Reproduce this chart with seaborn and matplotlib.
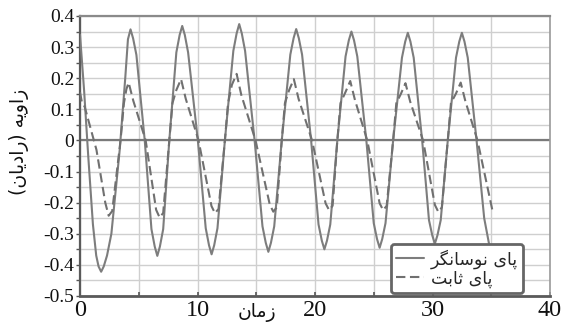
import matplotlib
matplotlib.use("Agg")
import matplotlib.pyplot as plt
from matplotlib.ticker import MultipleLocator, FixedLocator, FixedFormatter
import seaborn as sns
import pandas as pd

# ---------------- data ----------------
t_osc = [0.00, 0.35, 0.70, 1.10, 1.38, 1.58, 1.80, 2.02, 2.30, 2.67, 3.38, 3.85, 4.08, 4.30,
         4.52, 4.80, 5.51, 6.08, 6.36, 6.58, 6.80, 7.08, 7.60, 8.20, 8.48, 8.70,
         8.92, 9.20, 10.03, 10.70, 10.98, 11.20, 11.42, 11.70, 12.33, 13.05, 13.33, 13.55,
         13.77, 14.05, 14.86, 15.53, 15.81, 16.03, 16.25, 16.53, 17.17, 17.90, 18.18, 18.40,
         18.62, 18.90, 19.67, 20.30, 20.58, 20.80, 21.02, 21.30, 21.90, 22.60, 22.88, 23.10,
         23.32, 23.60, 24.37, 25.00, 25.28, 25.50, 25.72, 26.00, 26.65, 27.40, 27.68, 27.90,
         28.12, 28.40, 29.12, 29.70, 29.98, 30.20, 30.42, 30.70, 31.30, 32.00, 32.28, 32.50,
         32.72, 33.00, 33.75, 34.40, 34.85]
angle_osc = [0.340, 0.160, -0.050, -0.270, -0.370, -0.405, -0.422, -0.405, -0.370, -0.300, -0.030, 0.200, 0.325, 0.357,
             0.328, 0.275, 0.000, -0.285, -0.341, -0.371, -0.341, -0.285, 0.000, 0.283, 0.339, 0.368,
             0.339, 0.283, 0.000, -0.282, -0.337, -0.366, -0.337, -0.282, 0.000, 0.288, 0.344, 0.374,
             0.344, 0.288, 0.000, -0.276, -0.329, -0.358, -0.329, -0.276, 0.000, 0.276, 0.329, 0.358,
             0.329, 0.276, 0.000, -0.270, -0.322, -0.350, -0.322, -0.270, 0.000, 0.270, 0.322, 0.350,
             0.322, 0.270, 0.000, -0.266, -0.317, -0.345, -0.317, -0.266, 0.000, 0.266, 0.318, 0.346,
             0.318, 0.266, 0.000, -0.256, -0.305, -0.332, -0.305, -0.256, 0.000, 0.266, 0.318, 0.346,
             0.318, 0.266, 0.000, -0.250, -0.340]

t_fixed = [0.00, 0.15, 0.40, 1.40, 2.15, 2.44, 2.74, 3.45, 3.74, 3.95, 4.14,
           4.54, 5.59, 6.48, 6.78, 7.08, 7.60, 7.87, 8.20, 8.60,
           9.00, 10.09, 11.19, 11.49, 11.79, 12.33, 12.60, 12.93, 13.33,
           13.73, 14.94, 16.15, 16.45, 16.75, 17.17, 17.44, 17.80, 18.20,
           18.60, 19.75, 20.90, 21.20, 21.50, 21.90, 22.17, 22.60, 23.00,
           23.40, 24.45, 25.50, 25.80, 26.10, 26.65, 26.92, 27.30, 27.70,
           28.10, 29.20, 30.20, 30.50, 30.80, 31.30, 31.57, 32.00, 32.40,
           32.80, 33.83, 35.10]
angle_fixed = [0.155, 0.125, 0.108, -0.030, -0.200, -0.242, -0.227, 0.000, 0.120, 0.165, 0.186,
               0.127, 0.000, -0.223, -0.248, -0.233, 0.000, 0.120, 0.162, 0.197,
               0.134, 0.000, -0.211, -0.234, -0.220, 0.000, 0.120, 0.179, 0.214,
               0.146, 0.000, -0.206, -0.229, -0.215, 0.000, 0.120, 0.162, 0.197,
               0.134, 0.000, -0.202, -0.224, -0.210, 0.000, 0.120, 0.156, 0.191,
               0.130, 0.000, -0.202, -0.224, -0.210, 0.000, 0.120, 0.149, 0.184,
               0.125, 0.000, -0.207, -0.230, -0.215, 0.000, 0.120, 0.151, 0.186,
               0.126, 0.000, -0.225]

series_names = ["پای نوسانگر", "پای ثابت"]
x_label = "زمان"
y_label = "زاویه (رادیان)"
x_ticks = [0, 10, 20, 30, 40]
x_ticklabels = ["0", "10", "20", "30", "40"]
y_ticks = [-0.5, -0.4, -0.3, -0.2, -0.1, 0.0, 0.1, 0.2, 0.3, 0.4]
y_ticklabels = ["-0.5", "-0.4", "-0.3", "-0.2", "-0.1", "0", "0.1", "0.2", "0.3", "0.4"]

# ---------------- simple Arabic-script shaping for display ----------------
FORMS = {
    '\u0627': ('\uFE8D', '\uFE8E', None, None),
    '\u0628': ('\uFE8F', '\uFE90', '\uFE91', '\uFE92'),
    '\u067E': ('\uFB56', '\uFB57', '\uFB58', '\uFB59'),
    '\u062A': ('\uFE95', '\uFE96', '\uFE97', '\uFE98'),
    '\u062B': ('\uFE99', '\uFE9A', '\uFE9B', '\uFE9C'),
    '\u062F': ('\uFEA9', '\uFEAA', None, None),
    '\u0631': ('\uFEAD', '\uFEAE', None, None),
    '\u0632': ('\uFEAF', '\uFEB0', None, None),
    '\u0633': ('\uFEB1', '\uFEB2', '\uFEB3', '\uFEB4'),
    '\u06AF': ('\uFB92', '\uFB93', '\uFB94', '\uFB95'),
    '\u0645': ('\uFEE1', '\uFEE2', '\uFEE3', '\uFEE4'),
    '\u0646': ('\uFEE5', '\uFEE6', '\uFEE7', '\uFEE8'),
    '\u0648': ('\uFEED', '\uFEEE', None, None),
    '\u0647': ('\uFEE9', '\uFEEA', '\uFEEB', '\uFEEC'),
    '\u06CC': ('\uFBFC', '\uFBFD', '\uFBFE', '\uFBFF'),
    '\u064A': ('\uFEF1', '\uFEF2', '\uFEF3', '\uFEF4'),
}


def rtl(s):
    out = []
    n = len(s)
    for i, ch in enumerate(s):
        f = FORMS.get(ch)
        if f is None:
            out.append(ch)
            continue
        prev = FORMS.get(s[i - 1]) if i > 0 else None
        nxt = FORMS.get(s[i + 1]) if i + 1 < n else None
        pj = prev is not None and prev[2] is not None
        nj = nxt is not None and f[2] is not None
        if pj and nj:
            out.append(f[3])
        elif pj:
            out.append(f[1])
        elif nj:
            out.append(f[2])
        else:
            out.append(f[0])
    mirror = {'(': ')', ')': '('}
    return ''.join(mirror.get(c, c) for c in reversed(out))


# ---------------- figure ----------------
sns.set_style("white")
plt.rcParams['font.family'] = ['Liberation Serif', 'DejaVu Sans']

W, H = 565, 327
fig = plt.figure(figsize=(W / 100, H / 100), dpi=100)
ax = fig.add_axes([80 / W, 1 - 296 / H, 470 / W, 280 / H])

df_osc = pd.DataFrame({"t": t_osc, "a": angle_osc})
df_fix = pd.DataFrame({"t": t_fixed, "a": angle_fixed})

ax.axhline(0, color="#7a7a7a", lw=1.6, zorder=1.5)

sns.lineplot(data=df_osc, x="t", y="a", ax=ax, sort=False, estimator=None,
             color="#7d7d7d", lw=1.5, label=rtl(series_names[0]), zorder=3)
sns.lineplot(data=df_fix, x="t", y="a", ax=ax, sort=False, estimator=None,
             color="#707070", lw=1.5, linestyle=(0, (4.5, 2.2)), label=rtl(series_names[1]), zorder=3)

ax.set_xlim(0, 40)
ax.set_ylim(-0.5, 0.4)

ax.xaxis.set_major_locator(FixedLocator(x_ticks))
ax.xaxis.set_major_formatter(FixedFormatter(x_ticklabels))
ax.xaxis.set_minor_locator(MultipleLocator(5))
ax.yaxis.set_major_locator(FixedLocator(y_ticks))
ax.yaxis.set_major_formatter(FixedFormatter(y_ticklabels))
ax.yaxis.set_minor_locator(MultipleLocator(0.05))

ax.grid(True, which="both", color="#cfcfcf", lw=1.0, zorder=0)
ax.set_axisbelow(True)

ax.tick_params(axis="x", which="both", direction="in", length=3, width=1.2,
               color="#555555", labelsize=17.5, pad=3)
ax.tick_params(axis="y", which="both", direction="out", length=3, width=1.0,
               color="#555555", labelsize=14, pad=1)
ax.tick_params(axis="both", which="both", bottom=True, left=True)
for lab in ax.get_xticklabels() + ax.get_yticklabels():
    lab.set_family("Liberation Serif")
    lab.set_color("#111111")

ax.set_xlabel("")
ax.set_ylabel("")

for side, c, w in [("left", "#5a5a5a", 1.6), ("bottom", "#5a5a5a", 2.0),
                   ("top", "#8a8a8a", 1.6), ("right", "#9a9a9a", 1.2)]:
    ax.spines[side].set_color(c)
    ax.spines[side].set_linewidth(w)
    ax.spines[side].set_visible(True)

fig.text(257 / W, 1 - 313 / H, rtl(x_label), family=["DejaVu Sans"], fontsize=13.5,
         ha="center", va="center", color="#111111")
fig.text(19 / W, 1 - 142 / H, rtl(y_label), family=["DejaVu Sans"], fontsize=13.5,
         ha="center", va="center", rotation=90, color="#111111")

leg = ax.legend(loc="lower right", bbox_to_anchor=((523 - 80) / 470, 3 / 280),
                borderaxespad=0, frameon=True, fancybox=True, framealpha=1,
                prop={"family": "DejaVu Sans", "size": 12.5}, handlelength=1.6,
                handletextpad=0.4, labelspacing=0.05, borderpad=0.3)
leg.get_frame().set_edgecolor("#666666")
leg.get_frame().set_linewidth(2.0)
leg.set_zorder(10)

fig.savefig("out.png", dpi=100)
